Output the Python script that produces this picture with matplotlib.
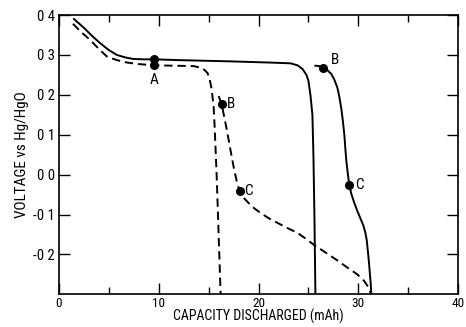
import matplotlib
matplotlib.use("Agg")
import matplotlib.pyplot as plt
from matplotlib import font_manager

# Pick a narrow sans face for the labels if one is installed
fonts = font_manager.fontManager.ttflist
names = {f.name for f in fonts}
stretch = "normal"
family = None
for cand in ["Liberation Sans Narrow", "Roboto Condensed", "Open Sans Condensed",
             "Arial Narrow", "Noto Sans Condensed"]:
    if cand in names:
        family = cand
        break
if family is None:
    for f in fonts:
        if f.name in ("DejaVu Sans", "Noto Sans", "Open Sans") and f.stretch in ("condensed", "semi-condensed", 300, 400):
            family = f.name
            stretch = "condensed"
            break
if family is None:
    family = "Liberation Sans"
plt.rcParams["font.family"] = [family, "DejaVu Sans"]
plt.rcParams["font.stretch"] = stretch
plt.rcParams["lines.scale_dashes"] = False

# Discharge curves: capacity (mAh) vs voltage (V vs Hg/HgO)
solid1_x = [1.5, 2.5, 3.3, 4.1, 5.0, 5.8, 6.6, 7.4, 8.5, 9.5, 12.0, 17.0, 21.0, 23.2, 23.9, 24.4, 24.8, 25.0, 25.2, 25.4, 25.5, 25.6, 25.7]
solid1_y = [0.390, 0.368, 0.348, 0.330, 0.312, 0.300, 0.294, 0.290, 0.289, 0.289, 0.287, 0.284, 0.281, 0.279, 0.274, 0.265, 0.250, 0.235, 0.200, 0.150, 0.050, -0.100, -0.300]

solid2_x = [25.7, 26.1, 26.5, 26.9, 27.3, 27.6, 27.9, 28.1, 28.3, 28.45, 28.6, 28.7, 28.8, 28.95, 29.1, 29.3, 29.6, 29.9, 30.2, 30.5, 30.7, 30.85, 30.95, 31.05, 31.15, 31.25, 31.3]
solid2_y = [0.273, 0.272, 0.268, 0.262, 0.252, 0.238, 0.218, 0.195, 0.165, 0.135, 0.100, 0.065, 0.035, 0.002, -0.027, -0.048, -0.071, -0.091, -0.109, -0.127, -0.145, -0.165, -0.190, -0.215, -0.245, -0.275, -0.300]

dash1_x = [1.4, 2.2, 3.1, 4.0, 4.8, 5.8, 6.8, 8.0, 9.5, 11.5, 13.5, 14.2, 14.6, 14.9, 15.1, 15.3, 15.5, 15.6, 15.7, 15.8, 16.0, 16.2]
dash1_y = [0.378, 0.358, 0.338, 0.315, 0.296, 0.287, 0.281, 0.277, 0.274, 0.273, 0.272, 0.268, 0.262, 0.254, 0.239, 0.214, 0.170, 0.120, 0.060, 0.000, -0.150, -0.300]

dash2_x = [16.0, 16.3, 16.8, 17.2, 17.5, 17.8, 18.1, 18.5, 19.0, 19.6, 20.2, 21.0, 21.9, 22.9, 23.9, 24.7, 25.5, 26.7, 27.9, 28.9, 29.9, 30.6, 31.0, 31.3]
dash2_y = [0.197, 0.177, 0.115, 0.060, 0.020, -0.015, -0.042, -0.058, -0.071, -0.085, -0.096, -0.109, -0.121, -0.134, -0.146, -0.160, -0.175, -0.195, -0.215, -0.233, -0.250, -0.267, -0.282, -0.300]

# Marked points and their letters
mark_x = [9.5, 9.5, 16.3, 18.1, 26.5, 29.1]
mark_y = [0.289, 0.276, 0.177, -0.042, 0.268, -0.027]
letter_text = ["A", "B", "C", "B", "C"]
letter_x = [9.5, 16.8, 18.6, 27.3, 29.7]
letter_y = [0.238, 0.177, -0.040, 0.287, -0.027]

x_ticks = [0, 10, 20, 30, 40]
x_ticklabels = ["0", "10", "20", "30", "40"]
y_ticks = [0.4, 0.3, 0.2, 0.1, 0.0, -0.1, -0.2]
y_ticklabels = ["0 4", "0 3", "0 2", "0 1", "0 0", "-0 1", "-0 2"]

fig = plt.figure(figsize=(4.66, 3.27), dpi=100)
ax = fig.add_axes([0.1266, 0.100, 0.8564, 0.854])

lw = 1.4
ax.plot(solid1_x, solid1_y, color="black", lw=lw)
ax.plot(solid2_x, solid2_y, color="black", lw=lw)
ax.plot(dash1_x, dash1_y, color="black", lw=lw, dashes=(6, 3.5))
ax.plot(dash2_x, dash2_y, color="black", lw=lw, dashes=(6, 3.5))
ax.plot(mark_x, mark_y, "o", color="black", ms=5.5, zorder=5)

for t, lx, ly in zip(letter_text, letter_x, letter_y):
    ax.text(lx, ly, t, fontsize=11, ha="center" if t == "A" else "left",
            va="center", color="black")

ax.set_xlim(0, 40)
ax.set_ylim(-0.3, 0.4)
ax.set_xticks(x_ticks)
ax.set_xticklabels(x_ticklabels)
ax.set_xticks([5, 15, 25, 35], minor=True)
ax.set_yticks(y_ticks)
ax.set_yticklabels(y_ticklabels)

ax.tick_params(axis="both", which="major", direction="in", length=8, width=1,
               labelsize=10.5, top=True, right=True, pad=3)
ax.tick_params(axis="x", which="major", labelsize=9.5, pad=2)
ax.tick_params(axis="x", which="minor", direction="in", length=5, width=1,
               top=True)
for s in ax.spines.values():
    s.set_linewidth(1.2)

ax.set_xlabel("CAPACITY DISCHARGED (mAh)", fontsize=10, labelpad=-1)
ax.set_ylabel("VOLTAGE vs Hg/HgO", fontsize=11, labelpad=3)

fig.savefig("out.png", dpi=100)
